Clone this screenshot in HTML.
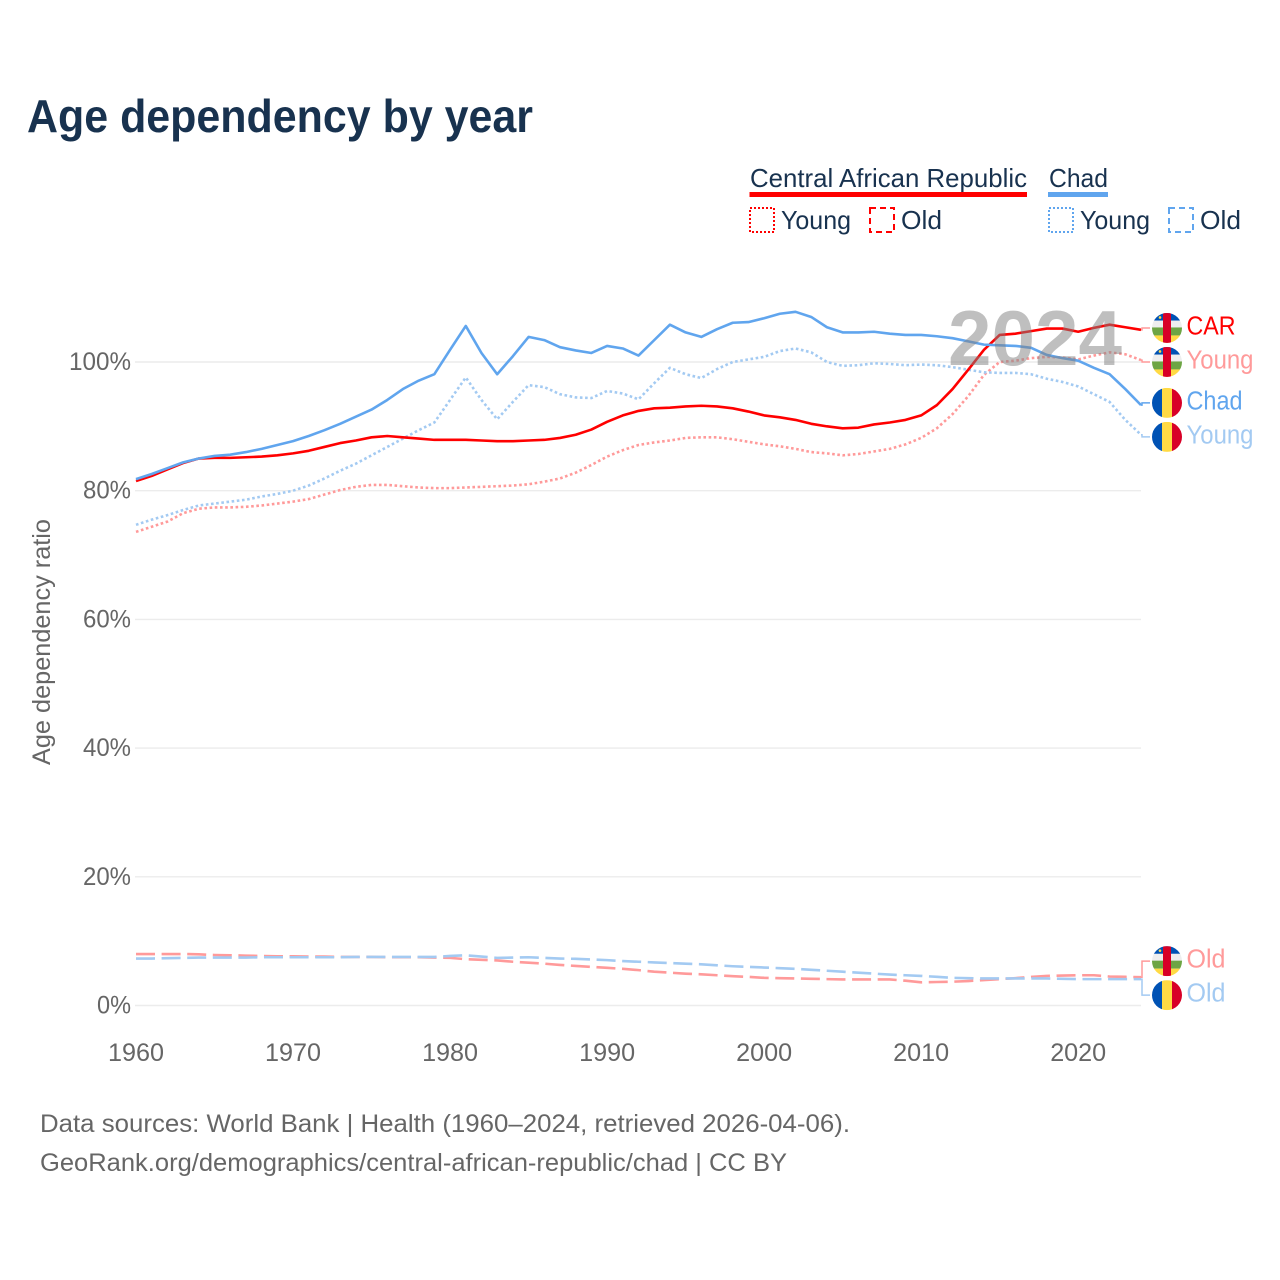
<!DOCTYPE html>
<html lang="en">
<head>
<meta charset="utf-8">
<title>Age dependency by year</title>
<style>
html,body{margin:0;padding:0;background:#fff;width:1280px;height:1280px;overflow:hidden}
svg{display:block}
text{font-family:"Liberation Sans",sans-serif}
</style>
</head>
<body>
<svg id="chart" xmlns="http://www.w3.org/2000/svg" width="1280" height="1280" viewBox="0 0 1280 1280">
  <defs>
    <clipPath id="flag-clip"><circle cx="0" cy="0" r="15"/></clipPath>
  </defs>
  <rect x="0" y="0" width="1280" height="1280" fill="#ffffff"/>
  <text x="27" y="132" font-size="46" font-weight="bold" fill="#18324f" textLength="506" lengthAdjust="spacingAndGlyphs">Age dependency by year</text>

  <g font-size="26" fill="#18324f">
    <text x="750" y="187" textLength="277" lengthAdjust="spacingAndGlyphs">Central African Republic</text>
    <rect x="749.5" y="192" width="277.5" height="5" fill="#ff0000"/>
    <text x="1049" y="187" textLength="59" lengthAdjust="spacingAndGlyphs">Chad</text>
    <rect x="1048" y="192" width="60" height="5" fill="#60a5ee"/>

    <rect x="750" y="208" width="24" height="24" fill="none" stroke="#ff0000" stroke-width="2" stroke-dasharray="2 2"/>
    <text x="781" y="229" textLength="70" lengthAdjust="spacingAndGlyphs">Young</text>
    <rect x="870" y="208" width="24" height="24" fill="none" stroke="#ff0000" stroke-width="2" stroke-dasharray="6 4"/>
    <text x="901" y="229" textLength="41" lengthAdjust="spacingAndGlyphs">Old</text>

    <rect x="1049" y="208" width="24" height="24" fill="none" stroke="#60a5ee" stroke-width="2" stroke-dasharray="2 2"/>
    <text x="1080" y="229" textLength="70" lengthAdjust="spacingAndGlyphs">Young</text>
    <rect x="1169" y="208" width="24" height="24" fill="none" stroke="#60a5ee" stroke-width="2" stroke-dasharray="6 4"/>
    <text x="1200" y="229" textLength="41" lengthAdjust="spacingAndGlyphs">Old</text>
  </g>

  <g id="grid"></g>
  <g id="y-ticks"></g>
  <g id="x-ticks"></g>
  <text transform="translate(50,642) rotate(-90)" text-anchor="middle" font-size="25" fill="#666666" textLength="246" lengthAdjust="spacingAndGlyphs">Age dependency ratio</text>

  <g id="series"></g>
  <text id="year-watermark" x="948" y="365" font-size="78" font-weight="bold" fill="#808080" fill-opacity="0.5" textLength="174" lengthAdjust="spacingAndGlyphs">2024</text>
  <g id="end-labels"></g>

  <g font-size="25" fill="#666666">
    <text x="40" y="1132" textLength="810" lengthAdjust="spacingAndGlyphs">Data sources: World Bank | Health (1960–2024, retrieved 2026-04-06).</text>
    <text x="40" y="1171" textLength="747" lengthAdjust="spacingAndGlyphs">GeoRank.org/demographics/central-african-republic/chad | CC BY</text>
  </g>
</svg>
<script>
const years = [1960,1961,1962,1963,1964,1965,1966,1967,1968,1969,
  1970,1971,1972,1973,1974,1975,1976,1977,1978,1979,
  1980,1981,1982,1983,1984,1985,1986,1987,1988,1989,
  1990,1991,1992,1993,1994,1995,1996,1997,1998,1999,
  2000,2001,2002,2003,2004,2005,2006,2007,2008,2009,
  2010,2011,2012,2013,2014,2015,2016,2017,2018,2019,
  2020,2021,2022,2023,2024];
const xTickLabels = [1960,1970,1980,1990,2000,2010,2020];
const yTickLabels = [0,20,40,60,80,100];

const carTotal = [81.5,82.3,83.3,84.3,85.0,85.1,85.1,85.2,85.3,85.5,
  85.8,86.2,86.8,87.4,87.8,88.3,88.5,88.3,88.1,87.9,
  87.9,87.9,87.8,87.7,87.7,87.8,87.9,88.2,88.7,89.5,
  90.7,91.7,92.4,92.8,92.9,93.1,93.2,93.1,92.8,92.3,
  91.7,91.4,91.0,90.4,90.0,89.7,89.8,90.3,90.6,91.0,
  91.7,93.3,95.8,98.8,101.9,104.2,104.4,104.8,105.2,105.2,
  104.7,105.3,105.8,105.4,105.0];
const carYoung = [73.6,74.4,75.2,76.5,77.2,77.4,77.4,77.5,77.7,78.0,
  78.3,78.7,79.4,80.1,80.6,80.9,80.9,80.7,80.5,80.4,
  80.4,80.5,80.6,80.7,80.8,81.0,81.4,81.9,82.8,84.0,
  85.3,86.3,87.1,87.5,87.8,88.2,88.3,88.3,88.0,87.6,
  87.2,86.9,86.5,86.0,85.8,85.5,85.7,86.1,86.5,87.2,
  88.2,89.7,91.9,94.7,98.0,100.0,100.2,100.6,100.8,100.7,
  100.4,101.0,101.5,101.2,100.3];
const carOld = [8.0,8.0,8.0,8.0,7.95,7.85,7.8,7.75,7.7,7.65,
  7.65,7.6,7.6,7.55,7.55,7.55,7.5,7.5,7.5,7.45,
  7.4,7.2,7.1,7.0,6.8,6.65,6.5,6.3,6.15,6.0,
  5.85,5.7,5.5,5.25,5.1,4.95,4.85,4.7,4.55,4.45,
  4.3,4.25,4.2,4.15,4.1,4.05,4.05,4.05,4.05,3.85,
  3.6,3.65,3.7,3.8,3.95,4.1,4.25,4.45,4.6,4.65,
  4.7,4.7,4.5,4.45,4.4];
const chadTotal = [81.8,82.6,83.5,84.4,85.0,85.4,85.6,86.0,86.5,87.1,
  87.7,88.5,89.4,90.4,91.5,92.6,94.1,95.8,97.1,98.1,
  101.9,105.6,101.4,98.1,100.9,103.9,103.4,102.3,101.8,101.4,
  102.5,102.1,101.0,103.4,105.8,104.6,103.9,105.1,106.1,106.2,
  106.8,107.5,107.8,107.0,105.4,104.6,104.6,104.7,104.4,104.2,
  104.2,104.0,103.7,103.2,102.7,102.6,102.5,102.2,101.1,100.6,
  100.2,99.1,98.1,95.8,93.3];
const chadYoung = [74.7,75.5,76.2,77.0,77.7,78.0,78.3,78.6,79.1,79.5,
  80.0,80.8,81.9,83.1,84.2,85.5,86.8,88.1,89.4,90.6,
  94.1,97.6,94.1,91.1,93.8,96.4,96.1,95.0,94.5,94.4,
  95.5,95.1,94.2,96.7,99.1,98.1,97.5,98.9,100.0,100.4,
  100.8,101.7,102.1,101.5,100.0,99.4,99.5,99.8,99.7,99.5,
  99.6,99.5,99.2,98.8,98.4,98.3,98.3,98.1,97.4,96.9,
  96.2,95.0,93.8,91.0,88.7];
const chadOld = [7.3,7.3,7.35,7.4,7.45,7.45,7.45,7.45,7.5,7.5,
  7.5,7.5,7.5,7.5,7.55,7.55,7.55,7.55,7.55,7.55,
  7.7,7.8,7.6,7.4,7.45,7.5,7.4,7.3,7.25,7.15,
  7.05,6.9,6.8,6.7,6.6,6.5,6.4,6.25,6.1,6.0,
  5.9,5.8,5.7,5.55,5.4,5.25,5.1,4.95,4.8,4.7,
  4.6,4.45,4.3,4.25,4.2,4.2,4.2,4.2,4.2,4.15,
  4.1,4.1,4.1,4.1,4.1];

const RED = '#ff0000', RED_LIGHT = '#ff9a9a', BLUE = '#60a5ee', BLUE_LIGHT = '#a3caf2';
const SVG_NS = 'http://www.w3.org/2000/svg';

function xScale(year) { return 136 + (year - 1960) * (1141 - 136) / (2024 - 1960); }
function yScale(pct) { return 1005.5 - pct * 6.435; }

function make(tag, attrs, parent) {
  const node = document.createElementNS(SVG_NS, tag);
  for (const k in attrs) node.setAttribute(k, attrs[k]);
  parent.appendChild(node);
  return node;
}

/* gridlines and y ticks */
const gridGroup = document.getElementById('grid');
const yTickGroup = document.getElementById('y-ticks');
yTickLabels.forEach(function (t) {
  const line = make('line', {x1: 135, x2: 1141, y1: yScale(t), y2: yScale(t), stroke: '#ececec', 'stroke-width': 1.4}, gridGroup);
  
  
  const label = t + '%';
  const txt = make('text', {x: 131, y: yScale(t) + 8, 'text-anchor': 'end', 'font-size': 25, fill: '#666666', textLength: 14 * String(t).length + 20, lengthAdjust: 'spacingAndGlyphs'}, yTickGroup);
  txt.textContent = label;
  
  
});

/* x ticks */
const xTickGroup = document.getElementById('x-ticks');
xTickLabels.forEach(function (t) {
  const txt = make('text', {x: xScale(t), y: 1061, 'text-anchor': 'middle', 'font-size': 25, fill: '#666666', textLength: 56, lengthAdjust: 'spacingAndGlyphs'}, xTickGroup);
  txt.textContent = t;
  
  
});

/* series */
const seriesGroup = document.getElementById('series');
function drawSeries(values, color, dash, name) {
  const d = values.map(function (v, i) {
    return (i ? 'L' : 'M') + xScale(years[i]).toFixed(2) + ',' + yScale(v).toFixed(2);
  }).join('');
  const attrs = {d: d, fill: 'none', stroke: color, 'stroke-width': 2.6, 'stroke-linejoin': 'round'};
  if (dash) attrs['stroke-dasharray'] = dash;
  const path = make('path', attrs, seriesGroup);
  
  
}
drawSeries(carYoung, RED_LIGHT, '2.6 2.6', 'line-car-young');
drawSeries(carOld, RED_LIGHT, '19 6.6', 'line-car-old');
drawSeries(chadYoung, BLUE_LIGHT, '2.6 2.6', 'line-chad-young');
drawSeries(chadOld, BLUE_LIGHT, '19 6.6', 'line-chad-old');
drawSeries(carTotal, RED, null, 'line-car-total');
drawSeries(chadTotal, BLUE, null, 'line-chad-total');

/* end labels: dodge overlapping labels so they sit 34px apart */
const labelGroup = document.getElementById('end-labels');
const endLabels = [
  {text: 'CAR', values: carTotal, color: RED, flag: 'car', width: 49},
  {text: 'Young', values: carYoung, color: RED_LIGHT, flag: 'car', width: 67},
  {text: 'Chad', values: chadTotal, color: BLUE, flag: 'chad', width: 56},
  {text: 'Young', values: chadYoung, color: BLUE_LIGHT, flag: 'chad', width: 67},
  {text: 'Old', values: carOld, color: RED_LIGHT, flag: 'car', width: 39},
  {text: 'Old', values: chadOld, color: BLUE_LIGHT, flag: 'chad', width: 39}
];
function dodge(items, gap) {
  const sorted = items.slice().sort(function (a, b) { return a.end - b.end; });
  let clusters = sorted.map(function (it) { return {items: [it], center: it.end}; });
  let merged = true;
  while (merged) {
    merged = false;
    for (let i = 0; i < clusters.length - 1; i++) {
      const a = clusters[i], b = clusters[i + 1];
      const aBottom = a.center + (a.items.length - 1) * gap / 2;
      const bTop = b.center - (b.items.length - 1) * gap / 2;
      if (bTop - aBottom < gap) {
        const all = a.items.concat(b.items);
        const c = all.reduce(function (s, it) { return s + it.end; }, 0) / all.length;
        clusters.splice(i, 2, {items: all, center: c});
        merged = true;
        break;
      }
    }
  }
  clusters.forEach(function (c) {
    c.items.forEach(function (it, i) {
      it.pos = c.center + (i - (c.items.length - 1) / 2) * gap;
    });
  });
}
endLabels.forEach(function (l) { l.end = yScale(l.values[l.values.length - 1]); });
dodge(endLabels, 34);

function drawFlag(kind, cy, parent) {
  const g = make('g', {transform: 'translate(1167,' + cy.toFixed(2) + ')', 'clip-path': 'url(#flag-clip)'}, parent);
  
  
  if (kind === 'car') {
    make('rect', {x: -15, y: -15, width: 30, height: 7.7, fill: '#0052b4'}, g);
    make('rect', {x: -15, y: -7.3, width: 30, height: 6.8, fill: '#eeeeee'}, g);
    make('rect', {x: -15, y: -0.5, width: 30, height: 8, fill: '#6da544'}, g);
    make('rect', {x: -15, y: 7.5, width: 30, height: 7.5, fill: '#ffda44'}, g);
    make('rect', {x: -4, y: -15, width: 8, height: 30, fill: '#d80027'}, g);
    make('circle', {cx: -7, cy: -10.5, r: 1.3, fill: '#ffda44'}, g);
  } else {
    make('rect', {x: -15, y: -15, width: 10, height: 30, fill: '#0052b4'}, g);
    make('rect', {x: -5, y: -15, width: 10, height: 30, fill: '#ffda44'}, g);
    make('rect', {x: 5, y: -15, width: 10, height: 30, fill: '#d80027'}, g);
  }
}

endLabels.forEach(function (l) {
  const leader = make('path', {d: 'M1141,' + l.end.toFixed(2) + 'H1142V' + l.pos.toFixed(2) + 'H1150', fill: 'none', stroke: l.color === RED ? RED_LIGHT : (l.color === BLUE ? BLUE : l.color), 'stroke-width': 1.5}, labelGroup);
  
  
  drawFlag(l.flag, l.pos, labelGroup);
  const txt = make('text', {x: 1186.5, y: l.pos + 6.5, 'font-size': 25.5, fill: l.color, textLength: l.width, lengthAdjust: 'spacingAndGlyphs'}, labelGroup);
  txt.textContent = l.text;
  
  
});
</script>
</body>
</html>
